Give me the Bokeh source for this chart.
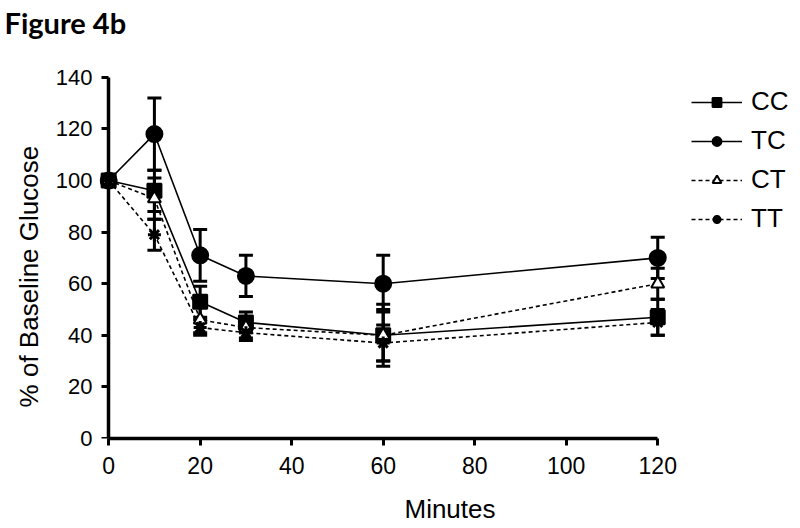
from bokeh.plotting import figure
from bokeh.models import ColumnDataSource, Whisker, TeeHead, Legend, LegendItem, Range1d, FixedTicker, LinearAxis
from bokeh.embed import file_html
from bokeh.resources import INLINE

minutes = [0, 10, 20, 30, 60, 120]
series_names = ["CC", "TC", "CT", "TT"]
cc_mean = [100, 96, 53, 45, 40, 47]
cc_err = [2, 8, 6, 4, 12, 7]
tc_mean = [100, 118, 71, 63, 60, 70]
tc_err = [2, 14, 10, 8, 11, 8]
ct_mean = [100, 93, 46, 43, 40, 60]
ct_err = [2, 8, 5, 4, 10, 6]
tt_mean = [100, 79, 43, 41, 37, 45]
tt_err = [2, 6, 3, 3, 7, 5]
x_ticks = [0, 20, 40, 60, 80, 100, 120]
y_ticks = [0, 20, 40, 60, 80, 100, 120, 140]

FONT = "Liberation Sans"

p = figure(width=800, height=528, output_backend="svg", toolbar_location=None,
           x_range=Range1d(-2, 151.2), y_range=Range1d(0, 153.5),
           min_border_left=99, min_border_right=0, min_border_top=42, min_border_bottom=90)
p.outline_line_color = None
p.xgrid.visible = False
p.ygrid.visible = False

p.title.text = "Figure 4b"
p.title.text_font = "Lato"
p.title.text_font_style = "bold"
p.title.text_font_size = "29px"
p.title.text_color = "black"
p.title.align = "left"
p.title.vertical_align = "top"
p.title.offset = -95
p.title.standoff = 1

for axs in (p.xaxis, p.yaxis):
    axs.axis_line_width = 3.5
    axs.axis_line_color = "black"
    axs.major_tick_line_width = 3
    axs.major_tick_line_color = "black"
    axs.major_tick_out = 7
    axs.major_tick_in = 0
    axs.minor_tick_line_color = None
    axs.major_label_text_font = FONT
    axs.major_label_text_color = "black"
    axs.axis_label_text_font = FONT
    axs.axis_label_text_font_size = "26px"
    axs.axis_label_text_font_style = "normal"
    axs.axis_label_text_color = "black"

p.xaxis.major_label_text_font_size = "23px"
p.yaxis.major_label_text_font_size = "22px"
p.xaxis.ticker = FixedTicker(ticks=x_ticks)
p.yaxis.ticker = FixedTicker(ticks=y_ticks)
p.xaxis.bounds = (0, 120)
p.xaxis.axis_label = "Minutes"
# trailing no-break spaces move the centred title down the axis, as in the original
p.yaxis.axis_label = "% of Baseline Glucose" + "\u00a0" * 10
p.xaxis.major_label_standoff = 11
p.xaxis.axis_label_standoff = 17
# label-only y axis at the frame edge
p.yaxis.axis_line_color = None
p.yaxis.major_tick_line_color = None
p.yaxis.major_tick_out = 0
p.yaxis.major_label_standoff = 7
p.yaxis.axis_label_standoff = 9

# y axis line and ticks placed at x = 0
yline = LinearAxis(fixed_location=0, bounds=(0, 140), ticker=FixedTicker(ticks=y_ticks),
                   axis_line_width=3.5, axis_line_color="black",
                   major_tick_line_width=3, major_tick_line_color="black",
                   major_tick_out=7, major_tick_in=0, minor_tick_line_color=None,
                   major_label_text_font_size="0px", major_label_standoff=0,
                   major_label_text_alpha=0)
p.add_layout(yline, "left")

specs = [
    ("CC", cc_mean, cc_err, "square", 14, "black", "solid"),
    ("TC", tc_mean, tc_err, "circle", 16, "black", "solid"),
    ("CT", ct_mean, ct_err, "triangle", 13, "white", "4 3"),
    ("TT", tt_mean, tt_err, "asterisk", 13, "black", "4 3"),
]

items = []
for name, mean, err, marker, size, fill, dash in specs:
    src = ColumnDataSource(dict(x=minutes, y=mean,
                                upper=[m + e for m, e in zip(mean, err)],
                                lower=[m - e for m, e in zip(mean, err)]))
    w = Whisker(source=src, base="x", upper="upper", lower="lower",
                line_width=3, line_color="black",
                upper_head=TeeHead(size=14, line_width=3, line_color="black"),
                lower_head=TeeHead(size=14, line_width=3, line_color="black"))
    p.add_layout(w)
    l = p.line("x", "y", source=src, line_color="black", line_width=1.6, line_dash=dash)
    s = p.scatter("x", "y", source=src, marker=marker, size=size, fill_color=fill,
                  line_color="black", line_width=3 if marker == "asterisk" else 2)
    items.append(LegendItem(label=name, renderers=[l, s]))

legend = Legend(items=items, location=(592, 204), glyph_width=51, glyph_height=22,
                label_text_font=FONT, label_text_font_size="26px", label_text_color="black",
                label_height=30, spacing=8, padding=0, margin=0, border_line_color=None,
                background_fill_alpha=0, label_standoff=9)
p.add_layout(legend)

open("out.html", "w").write(file_html(p, INLINE))
